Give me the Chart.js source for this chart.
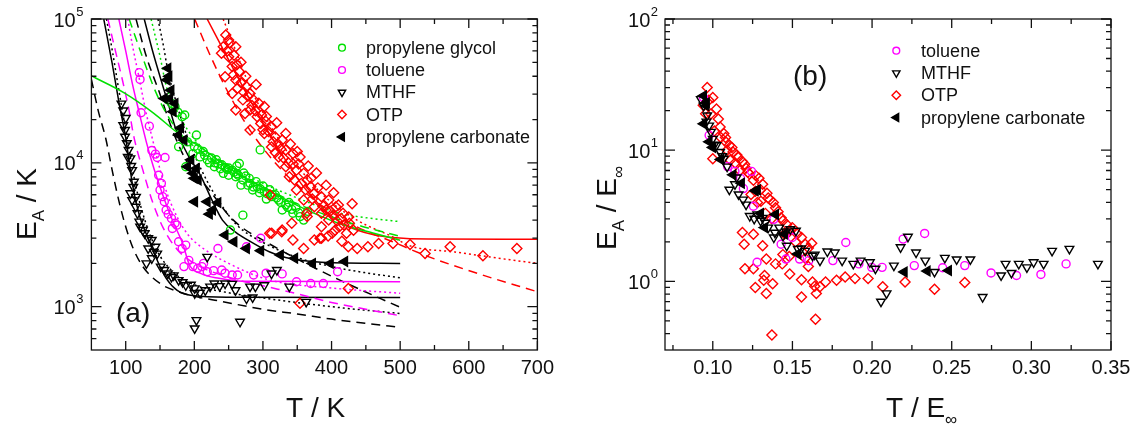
<!DOCTYPE html>
<html>
<head>
<meta charset="utf-8">
<script src="https://cdn.jsdelivr.net/npm/chart.js@4.4.0/dist/chart.umd.js"></script>
<style>
  html, body { margin: 0; padding: 0; background: #fff; }
  #wrap { position: relative; width: 1141px; height: 426px; overflow: hidden; }
  canvas { position: absolute; top: 0; }
  #panelA { left: 0; }
  #panelB { left: 570px; }
</style>
</head>
<body>
<div id="wrap">
  <canvas id="panelA" width="570" height="426"></canvas>
  <canvas id="panelB" width="571" height="426"></canvas>
</div>
<script>
// ---- panel (a): E_A vs T, points [T, E_A] ----
const pgPointsA = [[161.5,27400],[166.7,25900],[171.9,24600],[176,22500],[182.3,20900],[186,21500],[203.1,15600],[177.1,12950],[187.5,9400],[197.9,11600],[208.3,11000],[218.8,10500],[229.2,9400],[234.4,9860],[242.2,8450],[255.2,8900],[265.6,9900],[260.4,8000],[270.8,7600],[281.2,7200],[285,6470],[291.6,6830],[302,6300],[312.5,5820],[322.9,5510],[333.3,5090],[328.1,4700],[343.7,4460],[354.1,4230],[359.3,4000],[270.8,4330],[252.6,3410],[296,12300],[213,12000],[225,10800],[240,9700],[248,9000],[262,8400],[275,8100],[290,7400],[300,6900],[310,6500],[318,6000],[338,5300],[348,4900],[365,4600],[250,8200],[268,7000],[295,6200],[305,5600],[280,7800],[200,13000],[190,14000],[205,12500],[215,11300],[222,10000],[232,10500],[238,9100],[245,9300],[258,8600],[264,8200],[272,8500],[278,7000],[286,6800],[296,6600],[306,6100],[314,6000],[320,5700],[326,5300],[336,4900],[342,4750],[352,4500],[262,9500],[250,9200],[230,10000]];
const tolPointsA = [[119.8,42400],[120.9,38000],[122.4,22300],[134.4,18000],[138.1,12200],[143.3,11500],[145.9,10900],[157.3,10900],[150,6470],[153.7,5820],[156.3,5370],[158.9,4700],[166.7,4110],[171.9,3800],[174.5,3690],[177.1,2830],[187.5,2680],[182.3,2540],[184.9,1900],[197.9,1900],[211,1900],[213.5,2000],[218.8,1750],[234.4,2540],[244.8,1710],[255.2,1660],[263,1660],[276,2610],[286.4,1660],[296.8,2990],[304.6,1710],[328,1690],[348.9,1490],[369.7,1450],[388,1450],[408.8,1750],[148,8200],[152,7200],[162,4400],[168,3500],[192,2100],[205,1850],[228,1780],[240,1800]];
const mthfPointsA = [[93.8,25800],[96.4,23100],[96.4,18300],[99,16900],[99,15200],[101.6,13700],[104.2,12300],[106.8,10740],[109.4,8900],[112,7390],[106.8,6140],[109.4,5510],[114.6,4950],[117.2,4460],[119.8,3900],[125,3410],[127.6,3240],[132.8,2990],[138,2910],[143.3,2610],[132.8,2540],[145.9,2340],[138,2170],[130.2,2000],[151.1,1900],[156.3,1800],[161.5,1700],[166.7,1610],[177.1,1530],[187.5,1410],[200.5,1340],[208.3,1250],[200.5,1240],[218.8,2220],[229.2,1450],[237,1390],[244.8,1450],[255.2,1440],[276,1140],[281.2,1380],[289,1380],[302,1410],[312.5,1700],[320.3,1800],[338.5,1380],[363,1080],[203.1,807],[200.5,706],[266.6,786],[100,20500],[103,11000],[108,9500],[111,6800],[115,5800],[121,3600],[141,2400],[170,1650],[183,1480],[195,1420],[216,1300],[223,1380],[260,1300],[285,1160]];
const otpPointsA = [[245.8,77400],[242.2,64200],[260.4,64200],[250,54700],[255.2,46700],[265.6,43100],[244.8,39700],[260.4,37700],[276,33900],[281.2,30400],[255.2,30400],[270.8,27400],[286.4,27400],[260.4,23300],[281.2,23300],[291.6,20900],[302,24600],[296.8,18800],[312.5,17800],[281.2,16900],[302,16000],[317.7,15200],[328.1,14400],[333.3,16000],[312.5,12900],[333.3,12300],[343.7,11600],[322.9,11000],[354.1,11000],[333.3,9400],[348.9,8900],[359.3,8450],[338.5,8000],[364.5,7600],[369.7,6830],[348.9,6470],[374.9,6140],[385.3,5820],[359.3,5510],[395.8,5510],[374.9,4950],[385.3,4460],[406.2,4950],[364.5,4230],[395.8,4000],[416.6,4460],[385.3,3600],[411.4,3600],[421.8,3240],[374.9,2910],[401,3240],[309.9,3240],[328,3410],[343.7,2910],[359.3,2540],[437.4,2540],[424.4,2610],[453,2610],[468.6,2750],[489.5,2750],[385.3,2990],[250,71400],[239.6,57800],[310.4,5970],[312.8,3240],[327.4,3320],[342,3800],[363.8,4460],[383.2,2990],[424.5,1340],[354,1055],[514.4,2710],[536.3,2340],[572.8,2610],[620.6,2260],[670.1,2540],[268,50000],[275,40000],[290,35000],[305,21000],[320,19000],[340,13500],[350,12000],[366,9500],[378,8500],[392,7000],[403,6200],[410,5100],[425,4200],[430,5200],[248,60000],[252,68000],[258,56000],[262,48000],[257,41000],[268,36000],[263,33000],[272,31000],[278,29000],[284,25000],[274,22000],[289,23000],[294,26000],[298,21500],[304,19500],[300,17000],[308,16500],[315,14000],[322,13500],[318,11800],[326,12500],[330,10800],[337,10000],[344,9800],[352,9800],[346,7600],[356,7200],[362,6500],[370,7800],[372,5600],[380,6700],[388,5000],[392,4700],[398,4600],[402,4300],[408,3950],[414,4100],[418,3700],[426,3800],[432,3400],[405,3400],[395,3100],[415,2850]];
const pcPointsA = [[161.5,45400],[160.4,37700],[156.3,28000],[164.1,28000],[171.9,25900],[169.3,22700],[177.1,15600],[185,14400],[190.1,9400],[198,8450],[203.1,9150],[205.7,7600],[200.5,5370],[218.8,5370],[234.4,5290],[226.6,4700],[244.8,3150],[257.8,2830],[276,2540],[296.8,2450],[325.5,2290],[346.3,2170],[372.3,2000],[398.3,2000],[419.2,2060],[166,32000],[163,40000],[180,17500],[195,10500],[200,7800],[222,4400]];

// fit curves
const pgSolid = [[50,40200],[99,30400],[141,22100],[177,16000],[208,12950],[255,8900],[307,6470],[359,4820],[411,3790],[463,3230],[500,2900]];
const pgDashed = [[105,100000],[122,58700],[144,30900],[164,20200],[185,15000],[210,12000],[250,9000],[300,6800],[350,5200],[400,4200],[446,3600],[500,3080]];
const pgDotted = [[137,100000],[150,55000],[159,34300],[173,23700],[190,17000],[210,13000],[250,9600],[300,7200],[350,5700],[412,4460],[460,4100],[500,3900]];
const tolSolid = [[90,100000],[100,60000],[110,35000],[120,22000],[130,14000],[140,9500],[150,6800],[160,5000],[170,3800],[183,2750],[193,1950],[210,1700],[236,1575],[270,1500],[500,1490]];
const tolDashed = [[74,100000],[85,60000],[95,38000],[105,23000],[112,15100],[125,8900],[140,5200],[155,3500],[175,2500],[200,2000],[250,1600],[300,1400],[350,1230],[400,1070],[450,960],[500,865]];
const tolDotted = [[103,100000],[110,65000],[120,38000],[130,22000],[140,14000],[150,9000],[160,6200],[175,4200],[190,3200],[210,2600],[250,2000],[310,1530],[400,1350],[500,1240]];
const mthfSolid = [[68,100000],[80,50000],[91,25000],[100,15000],[110,7000],[120,4300],[130,3200],[140,2450],[150,1900],[160,1550],[175,1300],[200,1190],[250,1165],[500,1160]];
const mthfDashed = [[50,38000],[60,23000],[71,14700],[80,9000],[91,5200],[100,3600],[110,2600],[125,1900],[150,1450],[175,1280],[200,1180],[230,1110],[300,960],[350,890],[400,820],[450,765],[500,718]];
const mthfDotted = [[72,100000],[80,62000],[90,32000],[100,17000],[110,9000],[120,5400],[135,3200],[150,2250],[175,1650],[200,1420],[250,1250],[300,1150],[400,1000],[500,897]];
const otpSolid = [[218.7,100000],[250,51900],[281,27400],[312,15200],[333,10460],[359,6830],[385,4950],[411,3900],[437,3410],[463,3150],[489,3030],[541,2950],[700,2940]];
const otpDashed = [[200.5,100000],[224,54700],[250,30400],[281,16900],[323,9400],[375,5510],[437,3590],[489,2830],[541,2230],[620,1660],[700,1270]];
const otpDotted = [[242,100000],[260,60800],[281,33800],[312,17800],[344,10460],[385,6140],[437,4000],[489,3060],[514,2650],[580,2400],[660,2120],[700,2000]];
const pcSolid = [[127,100000],[140,58000],[154,34400],[165,23000],[173,17200],[190,11500],[210,8000],[225,5600],[241,4000],[260,3300],[281,2850],[310,2400],[333,2200],[385,2040],[500,2000]];
const pcDashed = [[115,100000],[130,55000],[149,30900],[170,16000],[190,10000],[222,6460],[252,4220],[271,3510],[300,2900],[344,2220],[412,1530],[500,990]];
const pcDotted = [[147,100000],[155,65000],[161,45000],[175,25000],[190,15000],[210,9000],[230,6000],[262,3700],[300,2800],[350,2200],[400,1900],[450,1720],[500,1590]];

// ---- panel (b): E_A/E_inf vs T/E_inf ----
const tolPointsB = [[0.0942,25.2],[0.0977,13.0],[0.1093,7.5],[0.1139,6.9],[0.1174,6.1],[0.1192,5.1],[0.1243,6.9],[0.1255,3.74],[0.1383,2.97],[0.1429,1.92],[0.1459,1.48],[0.1499,2.16],[0.1545,1.48],[0.1603,1.44],[0.1754,1.44],[0.1835,1.98],[0.1917,1.36],[0.1998,1.28],[0.2063,1.28],[0.2195,2.10],[0.2265,1.32],[0.2330,2.32],[0.2443,1.27],[0.2582,1.32],[0.2747,1.16],[0.2907,1.11],[0.3060,1.13],[0.3218,1.36],[0.1278,1.40]];
const mthfPointsB = [[0.0925,24.5],[0.0942,21.8],[0.0965,18.4],[0.0977,15.4],[0.0988,13.8],[0.1000,12.2],[0.1023,10.9],[0.1046,9.7],[0.1069,8.6],[0.1104,5.0],[0.1139,5.5],[0.1162,4.6],[0.1209,3.85],[0.1232,3.15],[0.1279,3.24],[0.1313,3.05],[0.1348,2.57],[0.1383,2.16],[0.1417,2.57],[0.1441,2.22],[0.1487,2.50],[0.1522,2.43],[0.1464,1.87],[0.1534,1.77],[0.1580,1.71],[0.1626,1.57],[0.1673,1.44],[0.1719,1.69],[0.1766,1.66],[0.1812,1.44],[0.1882,1.36],[0.1928,1.44],[0.1986,1.40],[0.2021,1.25],[0.2056,0.70],[0.2091,0.81],[0.2137,1.32],[0.2179,1.82],[0.2225,2.19],[0.2276,1.66],[0.2334,1.44],[0.2392,1.18],[0.2457,1.51],[0.2531,1.47],[0.2617,1.47],[0.2694,0.76],[0.2810,1.11],[0.2838,1.36],[0.2875,1.16],[0.2921,1.36],[0.2972,1.28],[0.3014,1.40],[0.3077,1.36],[0.3130,1.71],[0.3239,1.77],[0.3418,1.36],[0.0960,16.5],[0.1010,11.0],[0.1060,9.0],[0.1090,7.5],[0.1150,6.2],[0.1190,4.2],[0.1260,3.0],[0.1300,2.9],[0.1330,2.8],[0.1390,2.35],[0.1460,2.4],[0.1555,1.78],[0.1640,1.60]];
const otpPointsB = [[0.0965,30],[0.1000,25.2],[0.1023,20.6],[0.0988,18.9],[0.1035,17.3],[0.1046,15.0],[0.1069,13.4],[0.1081,11.6],[0.1104,10.9],[0.1127,9.7],[0.1151,9.2],[0.1000,8.6],[0.1186,8.2],[0.1209,7.3],[0.1255,5.9],[0.1290,6.1],[0.1313,5.5],[0.1267,4.86],[0.1348,4.33],[0.1359,4.2],[0.1302,4.08],[0.1394,3.64],[0.1429,3.05],[0.1464,2.72],[0.1499,2.57],[0.1557,2.16],[0.1580,1.92],[0.1621,1.95],[0.1186,2.36],[0.1197,1.92],[0.1255,2.29],[0.1313,1.87],[0.1336,1.48],[0.1255,1.25],[0.1202,1.25],[0.1325,1.11],[0.1320,1.02],[0.1267,0.90],[0.1336,0.81],[0.1376,0.96],[0.1394,1.36],[0.1436,1.36],[0.1483,1.14],[0.1557,1.03],[0.1557,0.76],[0.1626,0.99],[0.1650,0.81],[0.1645,0.515],[0.1371,0.39],[0.1673,0.91],[0.1708,0.99],[0.1777,1.02],[0.1831,1.08],[0.1893,1.05],[0.1975,1.05],[0.2067,0.91],[0.2207,0.99],[0.2392,0.87],[0.2582,0.98],[0.0940,22],[0.0955,19],[0.0975,24],[0.1010,14],[0.1050,12.5],[0.1090,10],[0.1110,8.4],[0.1140,8.0],[0.1170,7.0],[0.1230,6.6],[0.1240,4.6],[0.1280,4.0],[0.1330,3.3],[0.1370,3.0],[0.1450,2.3],[0.1520,2.0],[0.1580,1.5],[0.1440,1.6],[0.1480,1.55],[0.1600,1.3],[0.1640,0.92],[0.1080,12.5],[0.1120,10.5],[0.1160,8.8],[0.1200,7.8],[0.1220,6.8],[0.1270,6.4],[0.1300,5.0],[0.1340,4.7],[0.1380,4.0],[0.1410,3.4],[0.1440,2.9],[0.1480,2.4],[0.1530,2.3],[0.1600,1.8]];
const pcPointsB = [[0.0942,26],[0.0958,21.8],[0.0942,15.9],[0.0977,11.6],[0.1000,10.5],[0.1127,6.5],[0.1267,4.9],[0.1280,5.0],[0.1394,3.24],[0.1325,2.57],[0.1534,1.62],[0.2202,1.18],[0.2346,1.20],[0.2480,1.21],[0.0960,23],[0.1050,8.5],[0.1180,5.6],[0.1300,3.3],[0.1450,2.3]];

// axis ticks
const xTicksA = [100, 200, 300, 400, 500, 600, 700];
const xMinorA = [150, 250, 350, 450, 550, 650];
const yTicksA = [1e3, 1e4, 1e5];
const xTicksB = [0.10, 0.15, 0.20, 0.25, 0.30, 0.35];
const xMinorB = [0.075, 0.125, 0.175, 0.225, 0.275, 0.325];
const yTicksB = [1, 10, 100];

const GREEN = '#00e000', MAGENTA = '#ff00ff', RED = '#ff0000', BLACK = '#000000', INK = '#111111';
const FONT = '"Liberation Sans", Arial, Helvetica, sans-serif';
const DOT = [2, 3], DASH = [9, 6];

Chart.defaults.font.family = FONT;
Chart.defaults.color = INK;

const toXY = pairs => pairs.map(p => ({ x: p[0], y: p[1] }));

function markers(label, pairs, color, style, rot, filled, r, order) {
  return {
    label: label, data: toXY(pairs), showLine: false, order: order,
    pointStyle: style, pointRotation: rot, pointRadius: r, pointHoverRadius: r,
    pointBorderColor: color, pointBorderWidth: 1.4,
    pointBackgroundColor: filled ? color : 'rgba(0,0,0,0)'
  };
}
function fit(pairs, color, dash) {
  return {
    data: toXY(pairs), showLine: true, pointRadius: 0, pointHoverRadius: 0, order: 10,
    borderColor: color, borderWidth: 1.5, borderDash: dash,
    cubicInterpolationMode: 'monotone', fill: false
  };
}

// same geometry as Chart.js point styles, used for the legend keys
function drawKey(ctx, style, rot, r, x, y) {
  ctx.beginPath();
  if (style === 'circle') {
    ctx.arc(x, y, r, 0, Math.PI * 2);
  } else if (style === 'triangle') {
    let rad = rot * Math.PI / 180;
    for (let i = 0; i < 3; i++) {
      const px = x + Math.sin(rad) * r, py = y - Math.cos(rad) * r;
      i ? ctx.lineTo(px, py) : ctx.moveTo(px, py);
      rad += 2 * Math.PI / 3;
    }
  } else {
    ctx.moveTo(x, y - r); ctx.lineTo(x + r, y); ctx.lineTo(x, y + r); ctx.lineTo(x - r, y);
  }
  ctx.closePath();
  ctx.fill();
  ctx.stroke();
}

function subText(ctx, parts, x, y, rot) {
  ctx.save();
  ctx.translate(x, y);
  if (rot) ctx.rotate(rot);
  ctx.textAlign = 'left';
  ctx.textBaseline = 'alphabetic';
  ctx.fillStyle = INK;
  let cx = 0;
  parts.forEach(p => {
    ctx.font = (p.sub ? '17px ' : '28px ') + FONT;
    ctx.fillText(p.t, cx, p.sub ? 8 : 0);
    cx += ctx.measureText(p.t).width;
  });
  ctx.restore();
}

function minorLog(min, max) {
  const out = [];
  for (let e = Math.floor(Math.log10(min)); e <= Math.ceil(Math.log10(max)); e++) {
    for (let m = 2; m <= 9; m++) {
      const v = m * Math.pow(10, e);
      if (v > min * 1.001 && v < max * 0.999) out.push(v);
    }
  }
  return out;
}

function decor(cfg) {
  return {
    id: 'decor',
    afterDraw(chart) {
      const ctx = chart.ctx, a = chart.chartArea;
      const xs = chart.scales.x, ys = chart.scales.y;
      ctx.save();
      ctx.setLineDash([]);
      ctx.strokeStyle = INK;
      ctx.lineWidth = 1.3;
      ctx.strokeRect(a.left, a.top, a.right - a.left, a.bottom - a.top);

      ctx.beginPath();
      const xt = (v, len) => {
        const p = xs.getPixelForValue(v);
        ctx.moveTo(p, a.bottom); ctx.lineTo(p, a.bottom - len);
        ctx.moveTo(p, a.top); ctx.lineTo(p, a.top + len);
      };
      const yt = (v, len) => {
        const p = ys.getPixelForValue(v);
        ctx.moveTo(a.left, p); ctx.lineTo(a.left + len, p);
        ctx.moveTo(a.right, p); ctx.lineTo(a.right - len, p);
      };
      cfg.xMajor.forEach(v => xt(v, 9));
      cfg.xMinor.forEach(v => xt(v, 5));
      cfg.yMajor.forEach(v => yt(v, 10));
      minorLog(ys.min, ys.max).forEach(v => yt(v, 5));
      ctx.stroke();

      // decade labels 10^n
      ctx.fillStyle = INK;
      ctx.textAlign = 'right';
      ctx.textBaseline = 'alphabetic';
      cfg.yMajor.forEach(v => {
        const p = ys.getPixelForValue(v);
        const e = String(Math.round(Math.log10(v)));
        ctx.font = '13px ' + FONT;
        const ew = ctx.measureText(e).width;
        const right = a.left - cfg.labelGap;
        ctx.fillText(e, right, p - 3.5);
        ctx.font = '20px ' + FONT;
        ctx.fillText('10', right - ew - 0.5, p + 7.5);
      });

      // axis titles and panel tag
      subText(ctx, cfg.xTitle, cfg.xTitlePos[0], cfg.xTitlePos[1], 0);
      subText(ctx, cfg.yTitle, cfg.yTitlePos[0], cfg.yTitlePos[1], -Math.PI / 2);
      ctx.font = '28px ' + FONT;
      ctx.textAlign = 'left';
      ctx.fillText(cfg.tag[0], cfg.tag[1], cfg.tag[2]);

      // legend
      const L = cfg.legend;
      chart.data.datasets.filter(d => d.label).sort((p, q) => p.legendIndex - q.legendIndex).forEach((d, i) => {
        const y = L.y0 + i * L.dy;
        ctx.strokeStyle = d.pointBorderColor;
        ctx.fillStyle = d.pointBackgroundColor;
        ctx.lineWidth = 1.4;
        drawKey(ctx, d.pointStyle, d.pointRotation, d.pointRadius * 0.85, L.mx, y);
        ctx.fillStyle = INK;
        ctx.font = '18px ' + FONT;
        ctx.textBaseline = 'middle';
        ctx.fillText(d.label, L.tx, y + 1);
      });
      ctx.restore();
    }
  };
}

function axes(xmin, xmax, xTicks, fmt, ymin, ymax, yTicks, yWidth) {
  return {
    x: {
      type: 'linear', min: xmin, max: xmax,
      grid: { display: false, drawTicks: false }, border: { display: false },
      afterBuildTicks: s => { s.ticks = xTicks.map(v => ({ value: v })); },
      afterFit: s => { s.height = 76; },
      ticks: { font: { size: 20 }, color: INK, padding: 6, maxRotation: 0, autoSkip: false, callback: fmt }
    },
    y: {
      type: 'logarithmic', min: ymin, max: ymax,
      grid: { display: false, drawTicks: false }, border: { display: false },
      afterBuildTicks: s => { s.ticks = yTicks.map(v => ({ value: v })); },
      afterFit: s => { s.width = yWidth; },
      ticks: { display: false }
    }
  };
}

const setsA = [
  Object.assign(markers('propylene glycol', pgPointsA, GREEN, 'circle', 0, false, 4, 4), { legendIndex: 0 }),
  Object.assign(markers('toluene', tolPointsA, MAGENTA, 'circle', 0, false, 4, 3), { legendIndex: 1 }),
  Object.assign(markers('MTHF', mthfPointsA, BLACK, 'triangle', 180, false, 5, 1), { legendIndex: 2 }),
  Object.assign(markers('OTP', otpPointsA, RED, 'rectRot', 0, false, 5, 2), { legendIndex: 3 }),
  Object.assign(markers('propylene carbonate', pcPointsA, BLACK, 'triangle', 270, true, 5.5, 0), { legendIndex: 4 }),
  fit(pgSolid, GREEN, []), fit(pgDashed, GREEN, DASH), fit(pgDotted, GREEN, DOT),
  fit(tolSolid, MAGENTA, []), fit(tolDashed, MAGENTA, DASH), fit(tolDotted, MAGENTA, DOT),
  fit(mthfSolid, BLACK, []), fit(mthfDashed, BLACK, DASH), fit(mthfDotted, BLACK, DOT),
  fit(otpSolid, RED, []), fit(otpDashed, RED, DASH), fit(otpDotted, RED, DOT),
  fit(pcSolid, BLACK, []), fit(pcDashed, BLACK, DASH), fit(pcDotted, BLACK, DOT)
];

const setsB = [
  Object.assign(markers('toluene', tolPointsB, MAGENTA, 'circle', 0, false, 4, 2), { legendIndex: 0 }),
  Object.assign(markers('MTHF', mthfPointsB, BLACK, 'triangle', 180, false, 5, 1), { legendIndex: 1 }),
  Object.assign(markers('OTP', otpPointsB, RED, 'rectRot', 0, false, 5, 3), { legendIndex: 2 }),
  Object.assign(markers('propylene carbonate', pcPointsB, BLACK, 'triangle', 270, true, 5.5, 0), { legendIndex: 3 })
];

const common = {
  responsive: false, animation: false, events: [],
  plugins: { legend: { display: false }, tooltip: { enabled: false } }
};

new Chart(document.getElementById('panelA'), {
  type: 'scatter',
  data: { datasets: setsA },
  options: Object.assign({}, common, {
    layout: { padding: { left: 0, top: 19, right: 32.6, bottom: 0 } },
    scales: axes(50, 700, xTicksA, v => String(v), 500, 1e5, yTicksA, 91.4)
  }),
  plugins: [decor({
    xMajor: xTicksA, xMinor: xMinorA, yMajor: yTicksA, labelGap: 8,
    xTitle: [{ t: 'T / K' }], xTitlePos: [286, 417],
    yTitle: [{ t: 'E' }, { t: 'A', sub: true }, { t: ' / K' }], yTitlePos: [36, 240],
    tag: ['(a)', 116, 322],
    legend: { mx: 342, tx: 366, y0: 47.7, dy: 22.3 }
  })]
});

new Chart(document.getElementById('panelB'), {
  type: 'scatter',
  data: { datasets: setsB },
  options: Object.assign({}, common, {
    layout: { padding: { left: 0, top: 19, right: 30, bottom: 0 } },
    scales: axes(0.07, 0.35, xTicksB, v => Number(v).toFixed(2), 0.32, 100, yTicksB, 95)
  }),
  plugins: [decor({
    xMajor: xTicksB, xMinor: xMinorB, yMajor: yTicksB, labelGap: 7,
    xTitle: [{ t: 'T / E' }, { t: '\u221E', sub: true }], xTitlePos: [316, 417],
    yTitle: [{ t: 'E' }, { t: 'A', sub: true }, { t: ' / E' }, { t: '\u221E', sub: true }], yTitlePos: [45.5, 250],
    tag: ['(b)', 223, 85],
    legend: { mx: 326.3, tx: 351.1, y0: 50.7, dy: 22.3 }
  })]
});
</script>
</body>
</html>
